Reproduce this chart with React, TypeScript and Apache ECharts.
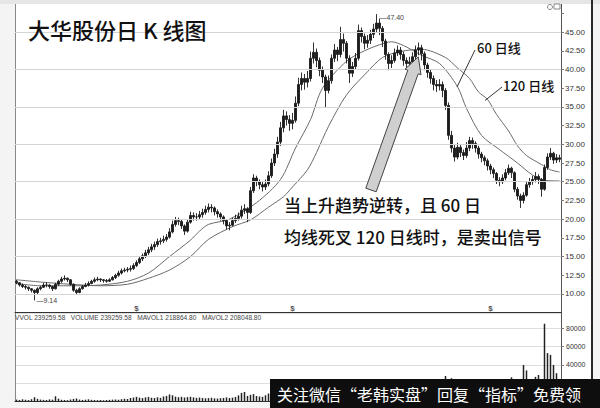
import React, { useEffect, useRef } from "react";
import * as echarts from "echarts";

// [open, close, low, high]
const candles: number[][] = [
  [11.7, 11.5, 11.3, 11.9], [11.5, 11.2, 11.0, 11.6], [11.2, 11.0, 10.8, 11.4], [11.0, 10.9, 10.6, 11.2], [10.9, 10.7, 10.4, 11.0],
  [10.7, 10.5, 10.2, 10.8], [10.5, 10.2, 9.14, 10.6], [10.2, 10.7, 10.0, 10.9], [10.7, 10.9, 10.5, 11.1], [10.9, 11.2, 10.8, 11.5],
  [11.2, 11.2, 10.9, 11.6], [11.2, 11.0, 10.7, 11.3], [11.0, 10.7, 10.4, 11.1], [10.7, 11.3, 10.6, 11.5], [11.3, 11.7, 11.1, 11.9],
  [11.7, 12.0, 11.5, 12.3], [12.0, 12.1, 11.8, 12.5], [12.1, 11.9, 11.6, 12.2], [11.9, 11.3, 11.1, 12.0], [11.3, 10.5, 10.3, 11.4],
  [10.5, 10.2, 9.9, 10.7], [10.2, 10.7, 10.1, 10.9], [10.7, 11.0, 10.6, 11.2], [11.0, 11.2, 10.9, 11.5], [11.2, 11.4, 11.0, 11.7],
  [11.4, 11.7, 11.3, 11.9], [11.7, 11.9, 11.5, 12.2], [11.9, 12.0, 11.7, 12.3], [12.0, 11.9, 11.6, 12.1], [11.9, 11.8, 11.5, 12.0],
  [11.8, 11.7, 11.5, 12.0], [11.7, 11.9, 11.6, 12.1], [11.9, 12.2, 11.8, 12.4], [12.2, 12.5, 12.0, 12.7], [12.5, 12.8, 12.3, 13.1],
  [12.8, 13.1, 12.6, 13.4], [13.1, 13.2, 12.9, 13.5], [13.2, 13.3, 12.9, 13.6], [13.3, 13.4, 13.0, 13.8], [13.4, 13.8, 13.2, 14.1],
  [13.8, 14.2, 13.6, 14.5], [14.2, 14.7, 14.0, 15.0], [14.7, 15.1, 14.4, 15.4], [15.1, 15.5, 14.8, 15.9], [15.5, 15.9, 15.2, 16.3],
  [15.9, 16.3, 15.6, 16.7], [16.3, 16.6, 15.9, 17.0], [16.6, 17.0, 16.3, 17.4], [17.0, 17.1, 16.6, 17.5], [17.1, 17.3, 16.8, 17.8],
  [17.3, 17.6, 17.0, 18.0], [17.6, 18.3, 17.4, 18.8], [18.3, 19.3, 18.1, 19.8], [19.3, 19.8, 19.0, 20.3], [19.8, 19.7, 19.2, 20.2],
  [19.7, 19.1, 18.7, 19.9], [19.1, 18.4, 17.9, 19.3], [18.4, 19.6, 18.2, 20.0], [19.6, 20.5, 19.4, 21.0], [20.5, 20.3, 19.8, 20.9],
  [20.3, 20.3, 19.8, 20.8], [20.3, 20.6, 20.0, 21.1], [20.6, 20.9, 20.2, 21.4], [20.9, 21.3, 20.6, 21.8], [21.3, 21.6, 20.9, 22.1],
  [21.6, 21.5, 20.9, 22.0], [21.5, 21.0, 20.5, 21.7], [21.0, 20.7, 20.2, 21.3], [20.7, 20.3, 19.8, 20.9], [20.3, 19.8, 19.3, 20.5],
  [19.8, 19.1, 18.6, 20.0], [19.1, 19.2, 18.5, 19.6], [19.2, 19.8, 19.0, 20.2], [19.8, 20.1, 19.5, 20.6], [20.1, 20.4, 19.8, 20.9],
  [20.4, 21.2, 20.1, 21.8], [21.2, 21.4, 20.7, 22.0], [21.4, 20.9, 19.6, 21.6], [20.9, 23.8, 20.7, 24.3], [23.8, 25.5, 23.5, 26.0],
  [25.5, 25.0, 24.4, 25.8], [25.0, 24.6, 24.0, 25.3], [24.6, 24.3, 23.7, 25.0], [24.3, 24.7, 23.9, 25.3], [24.7, 25.8, 24.4, 26.4],
  [25.8, 27.5, 25.5, 28.1], [27.5, 28.7, 27.1, 29.4], [28.7, 30.3, 28.2, 31.0], [30.3, 32.2, 29.8, 33.0], [32.2, 33.8, 31.6, 34.6],
  [33.8, 33.3, 32.5, 34.4], [33.3, 32.8, 31.8, 33.9], [32.8, 33.2, 32.0, 34.2], [33.2, 35.5, 32.9, 36.4], [35.5, 38.0, 35.1, 38.9],
  [38.0, 38.8, 37.2, 39.6], [38.8, 38.3, 37.3, 39.4], [38.3, 38.8, 37.6, 39.8], [38.8, 41.5, 38.4, 42.4], [41.5, 42.3, 40.8, 43.6],
  [42.3, 41.2, 40.3, 42.8], [41.2, 39.9, 39.1, 41.6], [39.9, 39.0, 38.2, 40.4], [39.0, 37.2, 34.9, 39.3], [37.2, 38.5, 36.8, 39.2],
  [38.5, 41.5, 38.1, 42.0], [41.5, 42.6, 41.0, 43.4], [42.6, 42.0, 41.1, 43.0], [42.0, 44.0, 41.6, 45.7], [44.0, 43.5, 42.4, 44.8],
  [43.5, 41.5, 40.8, 43.8], [41.5, 39.5, 38.2, 41.9], [39.5, 40.4, 39.0, 41.0], [40.4, 41.5, 40.0, 42.2], [41.5, 45.2, 41.2, 46.0],
  [45.2, 44.4, 43.6, 45.6], [44.4, 43.5, 42.7, 44.8], [43.5, 43.9, 42.9, 44.6], [43.9, 44.7, 43.4, 45.3], [44.7, 45.4, 44.2, 46.1],
  [45.4, 46.2, 45.0, 47.4], [46.2, 45.5, 44.6, 46.8], [45.5, 43.8, 43.0, 45.8], [43.8, 42.0, 41.3, 44.1], [42.0, 40.8, 39.9, 42.3],
  [40.8, 41.2, 40.2, 41.9], [41.2, 42.2, 40.9, 42.8], [42.2, 42.6, 41.8, 43.2], [42.6, 42.0, 41.3, 43.0], [42.0, 41.2, 40.5, 42.4],
  [41.2, 40.8, 40.0, 41.6], [40.8, 41.0, 40.2, 41.7], [41.0, 41.7, 40.6, 42.3], [41.7, 42.6, 41.3, 43.2], [42.6, 42.9, 41.9, 43.6],
  [42.9, 42.1, 41.2, 43.3], [42.1, 40.6, 39.9, 42.4], [40.6, 39.6, 38.9, 40.9], [39.6, 38.8, 38.1, 40.0], [38.8, 38.0, 37.2, 39.2],
  [38.0, 37.8, 37.0, 38.6], [37.8, 38.0, 37.2, 38.7], [38.0, 37.2, 36.3, 38.4], [37.2, 35.2, 34.6, 37.5], [35.2, 31.2, 30.6, 35.6],
  [31.2, 29.5, 28.9, 31.8], [29.5, 28.3, 27.7, 29.9], [28.3, 29.6, 28.0, 30.2], [29.6, 28.9, 28.3, 30.0], [28.9, 28.5, 27.9, 29.3],
  [28.5, 29.5, 28.2, 30.3], [29.5, 30.5, 29.1, 31.0], [30.5, 30.1, 29.4, 30.9], [30.1, 29.5, 28.9, 30.4], [29.5, 28.7, 28.1, 29.8],
  [28.7, 28.2, 27.6, 29.0], [28.2, 27.8, 27.2, 28.5], [27.8, 27.1, 26.5, 28.1], [27.1, 26.6, 26.0, 27.4], [26.6, 26.1, 25.5, 26.9],
  [26.1, 25.2, 24.7, 26.3], [25.2, 25.0, 24.4, 25.6], [25.0, 25.5, 24.7, 26.0], [25.5, 26.2, 25.2, 26.7], [26.2, 26.8, 25.9, 27.3],
  [26.8, 26.2, 25.5, 27.0], [26.2, 24.0, 23.6, 26.4], [24.0, 23.1, 22.6, 24.3], [23.1, 22.5, 21.5, 23.4], [22.5, 23.2, 22.1, 23.6],
  [23.2, 24.6, 23.0, 25.0], [24.6, 25.0, 24.2, 25.5], [25.0, 25.3, 24.6, 25.8], [25.3, 25.7, 24.9, 26.3], [25.7, 25.3, 24.7, 26.0],
  [25.3, 24.0, 23.0, 25.5], [24.0, 26.9, 23.8, 27.3], [26.9, 28.3, 26.6, 28.8], [28.3, 28.8, 27.9, 29.5], [28.8, 27.9, 27.4, 29.0],
  [27.9, 28.2, 27.5, 28.7], [28.2, 28.0, 27.6, 28.6],
];

// [candle index, value]
const ma60: number[][] = [
  [0, 11.4], [8, 11.1], [18, 11.1], [28, 11.2], [37, 11.7], [44, 12.8], [51, 15.0], [58, 17.2], [61, 18.4], [64, 19.3],
  [71, 20.0], [80, 22.2], [88, 25.3], [93, 29.5], [98, 33.3], [102, 37.5], [110, 41.1], [116, 42.5], [121, 43.3], [125, 43.7],
  [129, 43.2], [135, 41.9], [141, 40.8], [147, 37.7], [150, 34.8], [155, 31.2], [161, 29.3], [167, 27.5], [172, 25.9], [176, 25.2],
  [181, 25.1],
];
const ma120: number[][] = [
  [0, 11.9], [8, 11.6], [18, 11.3], [28, 11.1], [37, 11.3], [44, 12.1], [51, 13.2], [58, 15.0], [64, 17.3], [72, 19.0],
  [78, 19.9], [84, 21.6], [89, 23.0], [92, 24.3], [97, 26.6], [100, 28.9], [104, 32.4], [110, 36.6], [117, 39.7], [122, 41.6],
  [128, 42.4], [135, 42.7], [143, 41.6], [147, 40.2], [151, 38.8], [154, 37.0], [157, 36.0], [160, 34.0], [164, 31.8], [167, 29.8],
  [170, 28.5], [175, 27.3], [178, 26.6], [181, 26.3],
];

const volumes: number[] = [
  2200, 1800, 2500, 2000, 1700, 2600, 4800, 3000, 2200, 1900,
  1800, 2400, 2100, 5800, 3200, 2000, 1800, 1600, 2300, 2900,
  3400, 2200, 1800, 2100, 2500, 1900, 1700, 1600, 1800, 1500,
  1700, 1900, 2100, 2300, 2000, 2600, 3100, 2800, 3900, 4500,
  5200, 4300, 3800, 4600, 5100, 4200, 3900, 4700, 4100, 5600,
  6200, 7800, 6900, 5400, 4800, 5200, 4500, 4900, 5300, 4600,
  4100, 4400, 3900, 3600, 3800, 4200, 3500, 3300, 3700, 4000,
  4600, 3900, 4300, 5100, 6800, 9500, 10500, 6200, 7400, 8200,
  6100, 5600, 5200, 6900, 8800, 9800, 11500, 12800, 14200, 13600,
  11200, 9400, 10800, 12900, 15600, 14100, 12300, 13800, 16900, 15200,
  12700, 11400, 10100, 13300, 11800, 12600, 13900, 11200, 15800, 12400,
  10900, 11700, 10600, 14500, 12800, 11600, 10900, 12200, 13400, 16100,
  17800, 14300, 12100, 10900, 9800, 9200, 10400, 9700, 8900, 9600,
  10200, 8800, 9400, 11300, 12600, 10800, 11900, 10300, 9900, 10600,
  9500, 11800, 14200, 28000, 21500, 25500, 18200, 15400, 12800, 11600,
  13900, 15200, 12100, 10800, 9900, 11200, 10400, 9600, 8800, 9400,
  10900, 9700, 11500, 13200, 16800, 26500, 19800, 15600, 17900, 40000,
  34000, 18600, 16200, 27000, 29000, 22400, 85000, 53000, 51000, 40000,
  31000, 20000,
];

const priceLabels = [10, 12.5, 15, 17.5, 20, 22.5, 25, 27.5, 30, 32.5, 35, 37.5, 40, 42.5, 45];
const priceGridValues = [10, 15, 20, 25, 30, 35, 40, 45];
const volumeLabels = [40000, 60000, 80000];
const exMarkers = [40, 92, 158];
const highIndex = 120;
const highValue = 47.4;
const lowIndex = 6;
const lowValue = 9.14;

const title = "大华股份日 K 线图";
const note1 = "当上升趋势逆转，且 60 日";
const note2 = "均线死叉 120 日线时，是卖出信号";
const label60 = "60 日线";
const label120 = "120 日线";
const volHeader = "VVOL 239259.58   VOLUME 239259.58   MAVOL1 218864.80   MAVOL2 208048.80";
const watermark = "关注微信“老韩实盘”回复“指标”免费领";

const CJK = "'Noto Sans CJK SC', 'Noto Sans', sans-serif";
const NUM = "'Liberation Sans', Arial, sans-serif";

export default function App() {
  const ref = useRef<HTMLDivElement>(null);
  useEffect(() => {
    const chart = echarts.init(ref.current as HTMLDivElement, null, { renderer: "svg" });
    const categories = candles.map((_, i) => String(i));
    const dark = "#1c1c1c";
    chart.setOption({
      animation: false,
      backgroundColor: "#f4f4f4",
      grid: [
        { left: 15, right: 39, top: 4, height: 308.7, show: true, backgroundColor: "#ffffff", borderWidth: 0 },
        { left: 15, right: 39, top: 313, height: 88.6, show: true, backgroundColor: "#ffffff", borderWidth: 0 },
      ],
      xAxis: [
        {
          type: "category", gridIndex: 0, data: categories, boundaryGap: true,
          axisLine: { show: true, onZero: false, lineStyle: { color: "#333", width: 1 } },
          axisTick: { show: false }, axisLabel: { show: false }, splitLine: { show: false },
        },
        {
          type: "category", gridIndex: 1, data: categories, boundaryGap: true,
          axisLine: { show: true, onZero: false, lineStyle: { color: "#333", width: 1 } },
          axisTick: { show: false }, axisLabel: { show: false }, splitLine: { show: false },
        },
      ],
      yAxis: [
        {
          type: "value", gridIndex: 0, position: "right", min: 7.5, max: 48.75, interval: 2.5,
          splitLine: { show: false },
          axisLine: { show: true, lineStyle: { color: "#555" } },
          axisTick: { show: true, length: 3, lineStyle: { color: "#777" } },
          axisLabel: {
            fontSize: 8, color: "#333", margin: 4, fontFamily: NUM, showMinLabel: false, showMaxLabel: false,
            formatter: (v: number) => (priceLabels.some((p) => Math.abs(p - v) < 1e-6) ? v.toFixed(2) : ""),
          },
        },
        {
          type: "value", gridIndex: 0, position: "left", min: 7.5, max: 48.75, interval: 2.5,
          splitLine: { show: false }, axisLine: { show: true, lineStyle: { color: "#888" } },
          axisTick: { show: false }, axisLabel: { show: false },
        },
        {
          type: "value", gridIndex: 1, position: "right", min: 0, max: 96700, interval: 20000,
          splitLine: { show: true, lineStyle: { color: "#dedede", width: 1 } },
          axisLine: { show: true, lineStyle: { color: "#555" } },
          axisTick: { show: true, length: 3, lineStyle: { color: "#777" } },
          axisLabel: {
            fontSize: 7, color: "#333", margin: 5, fontFamily: NUM, showMaxLabel: false,
            formatter: (v: number) => (volumeLabels.indexOf(v) >= 0 ? String(v) : ""),
          },
        },
        {
          type: "value", gridIndex: 1, position: "left", min: 0, max: 96700, interval: 20000,
          splitLine: { show: false }, axisLine: { show: true, lineStyle: { color: "#888" } },
          axisTick: { show: false }, axisLabel: { show: false },
        },
      ],
      series: [
        {
          type: "line", xAxisIndex: 0, yAxisIndex: 0, data: ma60, smooth: 0.3, showSymbol: false, z: 2,
          lineStyle: { color: "#6a6a6a", width: 1 },
          markLine: {
            silent: true, symbol: "none", label: { show: false },
            lineStyle: { color: "#d4d4d4", type: "solid", width: 1 },
            data: priceGridValues.map((v) => ({ yAxis: v })),
          },
        },
        {
          type: "line", xAxisIndex: 0, yAxisIndex: 0, data: ma120, smooth: 0.3, showSymbol: false, z: 2,
          lineStyle: { color: "#6a6a6a", width: 1 },
        },
        {
          type: "candlestick", xAxisIndex: 0, yAxisIndex: 0, data: candles, barWidth: 1.8, z: 3,
          itemStyle: { color: dark, color0: dark, borderColor: dark, borderColor0: dark, borderWidth: 0.9 },
          markPoint: {
            symbol: "circle", symbolSize: 0,
            label: { show: true, position: "right", fontSize: 7, color: "#444", fontFamily: NUM, distance: 2 },
            data: [
              { name: "high", coord: [categories[highIndex], highValue], label: { formatter: "\u2014" + highValue.toFixed(2), offset: [1, 3] } },
              { name: "low", coord: [categories[lowIndex], lowValue], label: { formatter: "\u2014" + lowValue.toFixed(2), offset: [0, 0] } },
            ],
          },
        },
        {
          type: "scatter", xAxisIndex: 0, yAxisIndex: 0, symbolSize: 0, z: 4,
          data: exMarkers.map((i) => [categories[i], 8.1]),
          label: { show: true, position: "inside", formatter: "$", fontSize: 8, fontWeight: "bold", color: "#222", fontFamily: NUM },
        },
        {
          type: "bar", xAxisIndex: 1, yAxisIndex: 2, data: volumes, barWidth: 1.5,
          itemStyle: { color: "#222" },
        },
      ],
      graphic: [
        { type: "rect", z: 50, shape: { x: 0, y: 0, width: 600, height: 4 }, style: { fill: "#e6e6e6" } },
        { type: "rect", z: 0, shape: { x: 562, y: 4, width: 29, height: 398 }, style: { fill: "#ffffff" } },
        { type: "rect", z: 50, shape: { x: 591, y: 0, width: 2, height: 408 }, style: { fill: "#2a2a2a" } },
        { type: "circle", z: 50, shape: { cx: 550, cy: 7, r: 2.5 }, style: { fill: "none", stroke: "#888", lineWidth: 1 } },
        { type: "rect", z: 50, shape: { x: 554, y: 4, width: 6, height: 5 }, style: { fill: "none", stroke: "#888", lineWidth: 1 } },
        {
          type: "text", z: 60, x: 28, y: 28.5,
          style: { text: title, fontSize: 22, fontWeight: 500, fontFamily: CJK, fill: "#111", verticalAlign: "middle" },
        },
        {
          type: "text", z: 60, x: 15, y: 317,
          style: { text: volHeader, fontSize: 6.6, fontFamily: NUM, fill: "#444", verticalAlign: "middle" },
        },
        {
          type: "polygon", z: 60,
          shape: { points: [[365.8, 188.2], [376.2, 191.8], [418.2, 73.8], [421.0, 74.8], [418.3, 56.9], [405.0, 69.2], [407.8, 70.2]] },
          style: { fill: "#cfcfcf", stroke: "#444", lineWidth: 1 },
        },
        {
          type: "text", z: 60, x: 284, y: 204,
          style: { text: note1, fontSize: 17, fontWeight: 500, fontFamily: CJK, fill: "#111", verticalAlign: "middle" },
        },
        {
          type: "text", z: 60, x: 284, y: 236,
          style: { text: note2, fontSize: 17, fontWeight: 500, fontFamily: CJK, fill: "#111", verticalAlign: "middle" },
        },
        {
          type: "text", z: 60, x: 477, y: 47,
          style: { text: label60, fontSize: 13, fontWeight: 500, fontFamily: CJK, fill: "#111", verticalAlign: "middle" },
        },
        {
          type: "text", z: 60, x: 503, y: 85,
          style: { text: label120, fontSize: 13, fontWeight: 500, fontFamily: CJK, fill: "#111", verticalAlign: "middle" },
        },
        { type: "line", z: 60, shape: { x1: 475, y1: 50, x2: 457, y2: 87 }, style: { stroke: "#333", lineWidth: 1 } },
        { type: "line", z: 60, shape: { x1: 502, y1: 87, x2: 485, y2: 100.5 }, style: { stroke: "#333", lineWidth: 1 } },
        { type: "rect", z: 80, shape: { x: 270, y: 379, width: 330, height: 29 }, style: { fill: "#0e0e0e" } },
        {
          type: "text", z: 90, x: 277, y: 394,
          style: { text: watermark, fontSize: 16, fontFamily: CJK, fill: "#ffffff", verticalAlign: "middle" },
        },
      ],
    });
    return () => chart.dispose();
  }, []);
  return (
    <div
      ref={ref}
      style={{ position: "fixed", left: 0, top: 0, width: 600, height: 408, background: "#f4f4f4" }}
    />
  );
}
